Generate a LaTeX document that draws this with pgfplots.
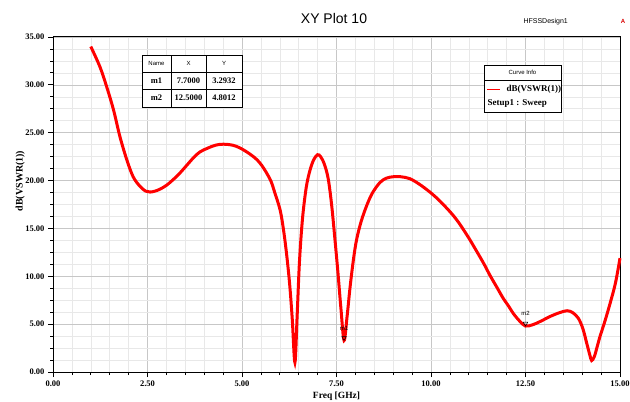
\documentclass[border=0pt]{standalone}
\usepackage{pgfplots}
\pgfplotsset{compat=1.18}
\usepackage{fontspec}
\setmainfont{Liberation Serif}
\newfontfamily\arial{Liberation Sans}

% dB(VSWR(1)) versus frequency, Setup1 : Sweep
\pgfplotstableread{
f     vswr
1.00  34.0
1.24  31.9
1.42  29.8
1.60  27.4
1.77  24.6
1.95  22.2
2.12  20.4
2.30  19.4
2.45  18.9
2.57  18.8
2.70  18.9
2.83  19.1
3.00  19.5
3.18  20.1
3.36  20.8
3.54  21.6
3.72  22.4
3.89  23.0
4.10  23.4
4.30  23.7
4.51  23.8
4.75  23.7
4.95  23.4
5.20  22.8
5.39  22.2
5.52  21.6
5.65  20.8
5.77  19.9
5.87  18.7
6.01  16.9
6.10  14.8
6.18  12.3
6.26  9.2
6.33  5.5
6.40  1.0
6.46  6.0
6.52  11.5
6.60  16.0
6.70  19.3
6.80  21.1
6.90  22.2
7.00  22.7
7.08  22.5
7.18  21.7
7.28  20.2
7.37  17.5
7.46  13.8
7.54  10.3
7.62  6.5
7.70  3.2932
7.78  5.8
7.86  8.9
7.95  11.8
8.03  13.8
8.15  15.7
8.30  17.4
8.45  18.7
8.65  19.8
8.82  20.25
9.00  20.4
9.20  20.4
9.44  20.2
9.70  19.6
9.97  18.8
10.20 18.0
10.42 17.1
10.60 16.3
10.77 15.4
11.00 14.0
11.21 12.6
11.40 11.3
11.56 10.1
11.75 8.8
11.91 7.7
12.05 6.9
12.18 6.1
12.35 5.3
12.50 4.8012
12.70 4.95
12.90 5.3
13.15 5.8
13.40 6.2
13.60 6.4
13.75 6.2
13.90 5.6
14.02 4.5
14.12 3.0
14.20 1.8
14.25 1.2
14.32 1.6
14.40 2.7
14.47 3.7
14.60 5.3
14.74 7.2
14.88 9.3
15.00 11.9
}\vswrdata

\begin{document}
\begin{tikzpicture}
\useasboundingbox (0pt,0pt) rectangle (630pt,402pt);
\begin{axis}[
  at={(53pt,30pt)}, anchor=south west,
  scale only axis, width=567pt, height=335pt,
  xmin=0, xmax=15, ymin=0, ymax=35,
  xtick={0,2.5,5,7.5,10,12.5,15},
  xticklabels={0.00,2.50,5.00,7.50,10.00,12.50,15.00},
  ytick={0,5,10,15,20,25,30,35},
  yticklabels={0.00,5.00,10.00,15.00,20.00,25.00,30.00,35.00},
  minor x tick num=4, minor y tick num=3,
  xtick pos=bottom, ytick pos=left,
  grid=both,
  major grid style={color=black!22, line width=0.6pt},
  minor grid style={color=black!9, line width=0.6pt},
  axis line style={black, line width=1pt},
  tick align=outside,
  major tick length=5pt, minor tick length=3pt,
  every tick/.style={black, line width=0.8pt},
  ticklabel style={font=\bfseries\fontsize{8.5}{9}\selectfont},
  xlabel={Freq [GHz]},
  ylabel={dB(VSWR(1))},
  xlabel style={font=\bfseries\fontsize{9.5}{10}\selectfont, at={(axis description cs:0.5,-0.05)}, anchor=north},
  ylabel style={font=\bfseries\fontsize{10}{11}\selectfont, at={(axis description cs:-0.058,0.57)}, anchor=center},
  clip=false,
]
\addplot[red, line width=3pt, smooth, tension=0.55] table[x=f, y=vswr] {\vswrdata};
% markers m1 and m2
\addplot[only marks, mark=triangle, mark size=2.6pt, black, line width=0.5pt,
  mark options={yshift=2.6pt, rotate=180, fill=white},
  nodes near coords={m1}, every node near coord/.style={font=\arial\fontsize{6}{6}\selectfont, anchor=south, yshift=4pt}]
  coordinates {(7.7,3.2932)};
\addplot[only marks, mark=triangle, mark size=2.6pt, black, line width=0.5pt,
  mark options={yshift=2.6pt, rotate=180, fill=white},
  nodes near coords={m2}, every node near coord/.style={font=\arial\fontsize{6}{6}\selectfont, anchor=south, yshift=4pt}]
  coordinates {(12.5,4.8012)};
\end{axis}

% title and design name
\node[font=\arial\fontsize{14}{14}\selectfont] at (334pt,384pt) {XY Plot 10};
\node[font=\arial\fontsize{7}{7}\selectfont, anchor=west] at (520pt,380pt) {HFSSDesign1};
\node[red!85!black, font=\arial\bfseries\fontsize{6}{6}\selectfont] at (623pt,381pt) {A};

% marker table
\begin{scope}[line width=0.8pt]
\fill[white] (142pt,295pt) rectangle (242pt,347pt);
\draw (142pt,295pt) rectangle (242pt,347pt);
\draw (142pt,330pt) -- (242pt,330pt);
\draw (142pt,313pt) -- (242pt,313pt);
\draw (171pt,295pt) -- (171pt,347pt);
\draw (206pt,295pt) -- (206pt,347pt);
\end{scope}
\node[font=\arial\fontsize{6}{6}\selectfont] at (156.5pt,338.5pt) {Name};
\node[font=\arial\fontsize{6}{6}\selectfont] at (188.5pt,338.5pt) {X};
\node[font=\arial\fontsize{6}{6}\selectfont] at (224pt,338.5pt) {Y};
\node[font=\bfseries\fontsize{8.5}{9}\selectfont] at (156.5pt,321.5pt) {m1};
\node[font=\bfseries\fontsize{8.5}{9}\selectfont] at (188.5pt,321.5pt) {7.7000};
\node[font=\bfseries\fontsize{8.5}{9}\selectfont] at (224pt,321.5pt) {3.2932};
\node[font=\bfseries\fontsize{8.5}{9}\selectfont] at (156.5pt,304pt) {m2};
\node[font=\bfseries\fontsize{8.5}{9}\selectfont] at (188.5pt,304pt) {12.5000};
\node[font=\bfseries\fontsize{8.5}{9}\selectfont] at (224pt,304pt) {4.8012};

% curve info box
\fill[white] (484pt,290pt) rectangle (561pt,337pt);
\draw[line width=0.8pt] (484pt,290pt) rectangle (561pt,337pt);
\draw[line width=0.6pt] (484pt,321.5pt) -- (561pt,321.5pt);
\node[font=\arial\fontsize{6}{6}\selectfont] at (522.5pt,329.5pt) {Curve Info};
\draw[red, line width=1.5pt] (487pt,312.5pt) -- (500pt,312.5pt);
\node[font=\bfseries\fontsize{9}{9}\selectfont, anchor=west] at (503pt,312.5pt) {dB(VSWR(1))};
\node[font=\bfseries\fontsize{9}{9}\selectfont, anchor=west] at (484pt,299pt) {Setup1 : Sweep};
\end{tikzpicture}
\end{document}
